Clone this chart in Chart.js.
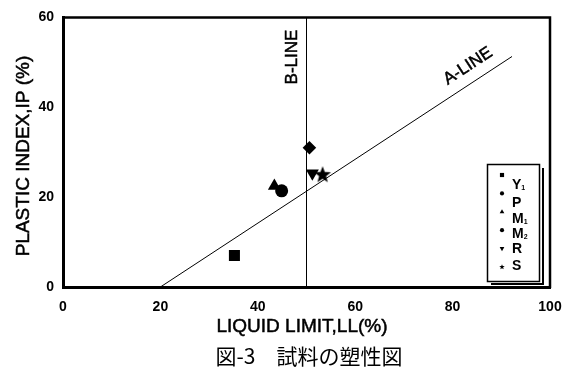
<!DOCTYPE html>
<html>
<head>
<meta charset="utf-8">
<script src="https://cdn.jsdelivr.net/npm/chart.js@4.4.1/dist/chart.umd.min.js"></script>
<style>
  html, body { margin: 0; padding: 0; background: #fff; }
</style>
</head>
<body>
<canvas id="plasticity" width="575" height="377"></canvas>
<script>
// samples: liquid limit LL (%) and plastic index IP (%)
const sampleNames = ['Y₁', 'P', 'M₁', 'M₂', 'R', 'S'];
const liquidLimit = [35.2, 50.6, 43.4, 44.9, 51.2, 53.3];
const plasticIndex = [7.0, 31.0, 22.5, 21.4, 25.3, 25.1];

// A-line and B-line end points
const aLineLL = [20, 92.2];
const aLineIP = [0, 51.3];
const bLineLL = [50, 50];
const bLineIP = [0, 60];

const xTicks = [0, 20, 40, 60, 80, 100];
const yTicks = [0, 20, 40, 60];

// marker look per sample
const markerStyle = ['rect', 'rectRot', 'triangle', 'circle', 'triangle', 'star'];
const markerRot = [0, 0, 0, 0, 180, 0];
const markerRadius = [7.8, 6.8, 7.5, 6.5, 7.5, 8];

function starPath(ctx, cx, cy, r) {
  ctx.beginPath();
  for (let i = 0; i < 10; i++) {
    const rr = i % 2 ? r * 0.42 : r;
    const a = -Math.PI / 2 + i * Math.PI / 5;
    ctx.lineTo(cx + rr * Math.cos(a), cy + rr * Math.sin(a));
  }
  ctx.closePath();
}

// filled five point star as image (chart.js 'star' is only an asterisk)
const starImg = document.createElement('canvas');
starImg.width = 18; starImg.height = 18;
const sctx = starImg.getContext('2d');
sctx.fillStyle = '#000';
starPath(sctx, 9, 9.8, 8.8);
sctx.fill();

function smallMarker(ctx, style, rot, x, y) {
  const r = 2.6;
  ctx.beginPath();
  if (style === 'rect') {
    ctx.rect(x - r * 0.8, y - r * 0.8, r * 1.6, r * 1.6);
  } else if (style === 'triangle') {
    const s = rot ? -1 : 1;
    ctx.moveTo(x, y - s * r);
    ctx.lineTo(x + r * 0.9, y + s * r * 0.6);
    ctx.lineTo(x - r * 0.9, y + s * r * 0.6);
    ctx.closePath();
  } else if (style === 'star') {
    starPath(ctx, x, y, r * 1.1);
  } else {
    ctx.arc(x, y, r * 0.8, 0, Math.PI * 2);
  }
  ctx.fill();
}

// fill + thin stroke, the scanned original text is a bit heavy
function heavyText(ctx, txt, x, y) {
  ctx.fillText(txt, x, y);
  ctx.strokeText(txt, x, y);
}

const subDigits = { '₁': '1', '₂': '2' };

const datasets = sampleNames.map(function(name, i) {
  return {
    label: name,
    data: [{ x: liquidLimit[i], y: plasticIndex[i] }],
    pointStyle: markerStyle[i] === 'star' ? starImg : markerStyle[i],
    rotation: markerRot[i],
    pointRadius: markerRadius[i],
    pointBackgroundColor: '#000',
    pointBorderWidth: 0,
    showLine: false,
    order: 0
  };
});

datasets.push({
  label: 'A-LINE',
  data: aLineLL.map((v, i) => ({ x: v, y: aLineIP[i] })),
  showLine: true, borderColor: '#000', borderWidth: 1, pointRadius: 0, order: 10
});
datasets.push({
  label: 'B-LINE',
  data: bLineLL.map((v, i) => ({ x: v, y: bLineIP[i] })),
  showLine: true, borderColor: '#000', borderWidth: 1, pointRadius: 0, order: 10
});

const annotate = {
  id: 'annotate',
  afterDraw(chart) {
    const { ctx, chartArea: a, scales: { x, y } } = chart;
    ctx.save();
    ctx.strokeStyle = '#000';
    ctx.fillStyle = '#000';

    // top and right frame
    ctx.lineWidth = 2.5;
    ctx.beginPath();
    ctx.moveTo(a.left - 1, a.top);
    ctx.lineTo(a.right, a.top);
    ctx.lineTo(a.right, a.bottom + 1);
    ctx.stroke();

    ctx.textAlign = 'center';
    ctx.textBaseline = 'middle';
    ctx.lineWidth = 0.5;

    // B-LINE label
    ctx.font = '17px "Liberation Sans"';
    ctx.save();
    ctx.translate(x.getPixelForValue(bLineLL[0]) - 14, 57);
    ctx.rotate(-Math.PI / 2);
    heavyText(ctx, 'B-LINE', 0, 0);
    ctx.restore();

    // A-LINE label along the line
    const x0 = x.getPixelForValue(aLineLL[0]), y0 = y.getPixelForValue(aLineIP[0]);
    const x1 = x.getPixelForValue(aLineLL[1]), y1 = y.getPixelForValue(aLineIP[1]);
    ctx.save();
    ctx.translate(x0 + (x1 - x0) * 0.9, y0 + (y1 - y0) * 0.9);
    ctx.rotate(Math.atan2(y1 - y0, x1 - x0));
    heavyText(ctx, 'A-LINE', 0, -16);
    ctx.restore();

    // axis titles + caption
    ctx.font = '19px "Liberation Sans"';
    ctx.save();
    ctx.translate(24, 156);
    ctx.rotate(-Math.PI / 2);
    heavyText(ctx, 'PLASTIC INDEX,IP (%)', 0, 0);
    ctx.restore();
    heavyText(ctx, 'LIQUID LIMIT,LL(%)', 302, 327);

    ctx.font = '21px "Noto Sans CJK JP"';
    ctx.fillText('図-3　試料の塑性図', 309, 356);

    // legend box with shadow
    ctx.lineWidth = 1.5;
    ctx.strokeRect(487.5, 164.5, 52, 117);
    ctx.lineWidth = 2;
    ctx.beginPath();
    ctx.moveTo(543, 168);
    ctx.lineTo(543, 284);
    ctx.lineTo(491, 284);
    ctx.stroke();

    const labelY = [185, 203, 219, 234, 249, 266];
    ctx.textAlign = 'left';
    sampleNames.forEach(function(name, i) {
      smallMarker(ctx, markerStyle[i], markerRot[i], 502, 175 + i * 18.4);
      const main = name.replace(/[₁₂]/g, '');
      const sub = name.slice(main.length);
      ctx.font = 'bold 14px "Liberation Sans"';
      ctx.fillText(main, 512, labelY[i]);
      if (sub) {
        const w = ctx.measureText(main).width;
        ctx.font = 'bold 7px "Liberation Sans"';
        ctx.fillText(subDigits[sub], 512 + w, labelY[i] + 3);
      }
    });
    ctx.restore();
  }
};

new Chart(document.getElementById('plasticity'), {
  type: 'scatter',
  data: { datasets: datasets },
  options: {
    responsive: false,
    animation: false,
    events: [],
    layout: { padding: { left: 0, right: 25, top: 13, bottom: 0 } },
    plugins: { legend: { display: false }, tooltip: { enabled: false } },
    scales: {
      x: {
        type: 'linear', min: 0, max: 100,
        afterBuildTicks: s => { s.ticks = xTicks.map(v => ({ value: v })); },
        afterFit: s => { s.height = 90; },
        grid: { display: false, drawTicks: false },
        border: { display: true, color: '#000', width: 3 },
        ticks: { color: '#000', font: { family: 'Liberation Sans', size: 14, weight: 'bold' }, padding: 12, maxRotation: 0 }
      },
      y: {
        type: 'linear', min: 0, max: 60,
        afterBuildTicks: s => { s.ticks = yTicks.map(v => ({ value: v })); },
        afterFit: s => { s.width = 63; },
        grid: { display: false, drawTicks: false },
        border: { display: true, color: '#000', width: 3 },
        ticks: { color: '#000', font: { family: 'Liberation Sans', size: 14, weight: 'bold' }, padding: 9 }
      }
    }
  },
  plugins: [annotate]
});
</script>
</body>
</html>
